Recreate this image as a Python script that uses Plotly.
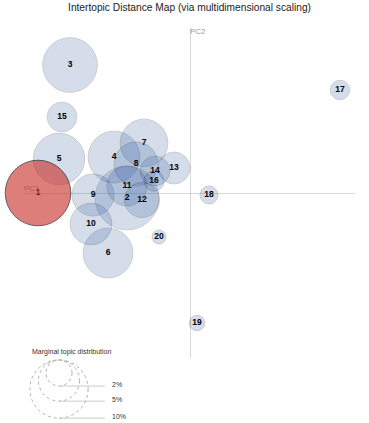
import plotly.graph_objects as go
import numpy as np

# topic coordinates on the two principal components and marginal share (%)
topics = list(range(1, 21))
pc1 = [-0.304, -0.126, -0.240, -0.152, -0.262, -0.164, -0.092, -0.108, -0.194, -0.198,
       -0.126, -0.096, -0.032, -0.070, -0.256, -0.072, 0.300, 0.038, 0.014, -0.062]
pc2 = [0.000, -0.010, 0.256, 0.072, 0.068, -0.120, 0.100, 0.058, -0.004, -0.062,
       0.014, -0.014, 0.050, 0.044, 0.152, 0.024, 0.206, -0.004, -0.260, -0.088]
freq = [12.7, 12.0, 8.8, 7.9, 7.8, 7.3, 6.7, 5.7, 5.2, 5.1,
        4.7, 3.6, 3.0, 2.6, 2.6, 1.2, 1.1, 0.95, 0.7, 0.58]
legend_pcts = [2, 5, 10]
selected = 1

W, H = 369, 423
R = 9.2  # px of radius per sqrt(percent)
sizeref = 1 / (2 * R ** 2)
font = "Liberation Sans, Arial, sans-serif"

sel = [i for i, t in enumerate(topics) if t == selected]
rest = [i for i, t in enumerate(topics) if t != selected]

fig = go.Figure()

# axis labels (under the circles)
fig.add_trace(go.Scatter(
    x=[-0.332, 0.0], y=[0.0, 0.33], mode="text", text=["PC1", "PC2"],
    textposition=["top right", "bottom right"],
    textfont=dict(family=font, size=8, color="#999"),
    cliponaxis=False, hoverinfo="skip"))

fig.add_trace(go.Scatter(
    x=[pc1[i] for i in rest], y=[pc2[i] for i in rest], mode="markers",
    marker=dict(size=[freq[i] for i in rest], sizemode="area", sizeref=sizeref,
                color="rgb(50,90,160)", opacity=0.2, line=dict(color="black", width=1)),
    cliponaxis=False, hoverinfo="skip"))

fig.add_trace(go.Scatter(
    x=pc1, y=pc2, mode="text", text=[str(t) for t in topics],
    textposition="middle center",
    textfont=dict(family=font, size=8.5, color="#000", weight="bold"),
    cliponaxis=False, hoverinfo="skip"))

fig.add_trace(go.Scatter(
    x=[pc1[i] for i in sel], y=[pc2[i] for i in sel], mode="markers",
    marker=dict(size=[freq[i] for i in sel], sizemode="area", sizeref=sizeref,
                color="#c9302a", opacity=0.62, line=dict(color="black", width=1)),
    cliponaxis=False, hoverinfo="skip"))

# size legend, drawn on an overlay in pixel units
cx, top, lx = 59, 360, 105
shapes = []
annotations = [dict(x=30, y=352, xref="x2", yref="y2", text="Marginal topic distribution",
                    showarrow=False, xanchor="left", yanchor="middle",
                    font=dict(family=font, size=7, color="#333"))]
for p in legend_pcts:
    r = R * np.sqrt(p)
    shapes.append(dict(type="circle", xref="x2", yref="y2", x0=cx - r, x1=cx + r,
                       y0=top, y1=top + 2 * r, line=dict(color="#b0b0b0", width=1, dash="dot")))
    shapes.append(dict(type="line", xref="x2", yref="y2", x0=cx, x1=lx,
                       y0=top + 2 * r, y1=top + 2 * r, line=dict(color="#ccc", width=1)))
    annotations.append(dict(x=lx + 5, y=top + 2 * r - 2, xref="x2", yref="y2", text=f"{p}%",
                            showarrow=False, xanchor="left", yanchor="middle",
                            font=dict(family=font, size=7, color="#333")))

fig.update_layout(
    width=W, height=H, margin=dict(l=0, r=0, t=0, b=0),
    paper_bgcolor="white", plot_bgcolor="rgba(0,0,0,0)", showlegend=False,
    title=dict(text="Intertopic Distance Map (via multidimensional scaling)",
               x=189.5 / W, xanchor="center", y=1 - 7 / H, yanchor="middle",
               yref="container", font=dict(family=font, size=10.2, color="#222")),
    xaxis=dict(domain=[24 / W, 355 / W], range=[-0.332, 0.330], showgrid=False,
               zeroline=True, zerolinecolor="rgba(128,128,128,0.3)", zerolinewidth=1,
               showticklabels=False, ticks="", fixedrange=True),
    yaxis=dict(domain=[1 - 358 / H, 1 - 28 / H], range=[-0.33, 0.33], showgrid=False,
               zeroline=True, zerolinecolor="rgba(128,128,128,0.3)", zerolinewidth=1,
               showticklabels=False, ticks="", fixedrange=True),
    xaxis2=dict(domain=[0, 1], range=[0, W], visible=False, anchor="y2", fixedrange=True),
    yaxis2=dict(domain=[0, 1], range=[H, 0], visible=False, anchor="x2", fixedrange=True),
    shapes=shapes, annotations=annotations,
)

# drop the browser's default page margin so the figure sits at the window corner
fig.write_html("out.html", config={"displayModeBar": False},
               post_script="document.body.style.margin='0';document.body.style.overflow='hidden';")
